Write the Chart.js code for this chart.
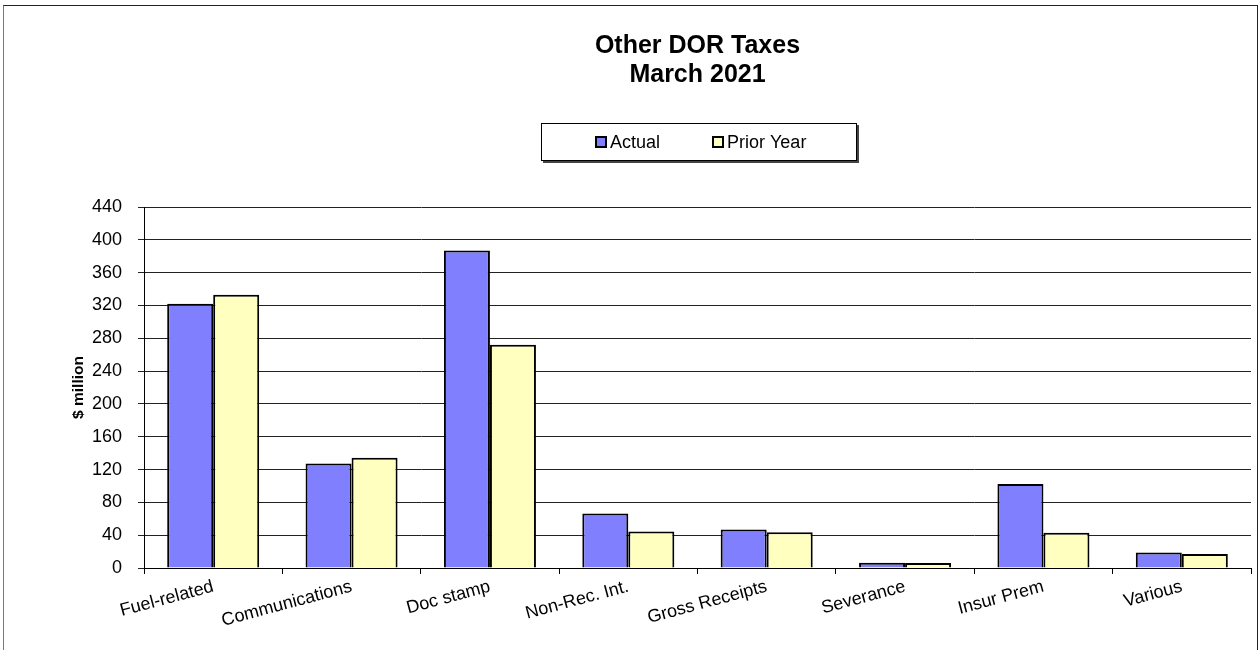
<!DOCTYPE html>
<html>
<head>
<meta charset="utf-8">
<title>Other DOR Taxes</title>
<script src="https://cdn.jsdelivr.net/npm/chart.js@4/dist/chart.umd.min.js"></script>
<style>
  body { margin: 0; background: #fff; overflow: hidden; }
  #frame { position: absolute; left: 3px; top: 5px; width: 1253px; height: 700px; border: 1px solid #222; border-left-color: #777; }
  #chart { position: absolute; left: 0; top: 0; }
</style>
</head>
<body>
<div id="frame"></div>
<canvas id="chart" width="1260" height="650"></canvas>
<script>
const categories = ['Fuel-related', 'Communications', 'Doc stamp', 'Non-Rec. Int.', 'Gross Receipts', 'Severance', 'Insur Prem', 'Various'];
const actual = [322, 127.5, 387, 66.5, 47, 6.5, 102.5, 19];
const priorYear = [333, 134.5, 272, 44.5, 43.5, 6, 43, 17];
const yTicks = [0, 40, 80, 120, 160, 200, 240, 280, 320, 360, 400, 440];

const FONT = 'Arial, "Liberation Sans", sans-serif';

// legend drawn as a framed box like the spreadsheet original
const boxLegend = {
  id: 'boxLegend',
  afterDraw(chart) {
    const ctx = chart.ctx;
    const area = chart.chartArea;
    const cx = (area.left + area.right) / 2;
    const left = cx - 156.5, top = 123, w = 316, h = 38;
    ctx.save();
    ctx.fillStyle = '#444';
    ctx.fillRect(left + 2, top + 2, w, h);
    ctx.fillStyle = '#fff';
    ctx.fillRect(left, top, w, h);
    ctx.strokeStyle = '#000';
    ctx.lineWidth = 1;
    ctx.strokeRect(left + 0.5, top + 0.5, w - 1, h - 1);
    const offsets = [55, 172];
    chart.data.datasets.forEach((ds, i) => {
      const x = left + offsets[i];
      const y = top + h / 2;
      ctx.fillStyle = ds.backgroundColor;
      ctx.fillRect(x, y - 5, 10, 10);
      ctx.lineWidth = 2;
      ctx.strokeStyle = '#000';
      ctx.strokeRect(x, y - 5, 10, 10);
      ctx.fillStyle = '#000';
      ctx.font = '18px ' + FONT;
      ctx.textBaseline = 'middle';
      ctx.fillText(ds.label, x + 14, y + 1);
    });
    ctx.restore();
  }
};

new Chart(document.getElementById('chart'), {
  type: 'bar',
  data: {
    labels: categories,
    datasets: [
      { label: 'Actual', data: actual, backgroundColor: '#8080FF', borderColor: '#000', borderWidth: 2 },
      { label: 'Prior Year', data: priorYear, backgroundColor: '#FFFFC0', borderColor: '#000', borderWidth: 2 }
    ]
  },
  options: {
    responsive: false,
    animation: false,
    layout: { padding: { left: 0, right: 9, top: 0, bottom: 0 } },
    datasets: { bar: { categoryPercentage: 0.665, barPercentage: 1.0 } },
    plugins: {
      legend: { display: false },
      tooltip: { enabled: false },
      title: {
        display: true,
        fullSize: false,
        text: ['Other DOR Taxes', 'March 2021'],
        color: '#000',
        font: { family: FONT, size: 25, weight: 'bold', lineHeight: 1.16 },
        padding: { top: 32, bottom: 117 }
      }
    },
    scales: {
      x: {
        grid: { drawOnChartArea: false, drawTicks: true, tickLength: 6, color: '#000' },
        border: { color: '#000', width: 1 },
        ticks: { color: '#000', font: { family: FONT, size: 18 }, minRotation: 15, maxRotation: 15, padding: 2 },
        afterFit(scale) { scale.height = 82; }
      },
      y: {
        min: 0,
        max: 440,
        afterBuildTicks(scale) { scale.ticks = yTicks.map(v => ({ value: v })); },
        grid: { color: '#222', lineWidth: 1, tickLength: 6 },
        border: { color: '#000', width: 1 },
        ticks: { color: '#000', font: { family: FONT, size: 18 }, padding: 16 },
        title: {
          display: true,
          text: '$ million',
          color: '#000',
          font: { family: FONT, size: 15.5, weight: 'bold' },
          padding: { top: 69.7, bottom: 0 }
        },
        afterFit(scale) { scale.width = 144; }
      }
    }
  },
  plugins: [boxLegend]
});
</script>
</body>
</html>
